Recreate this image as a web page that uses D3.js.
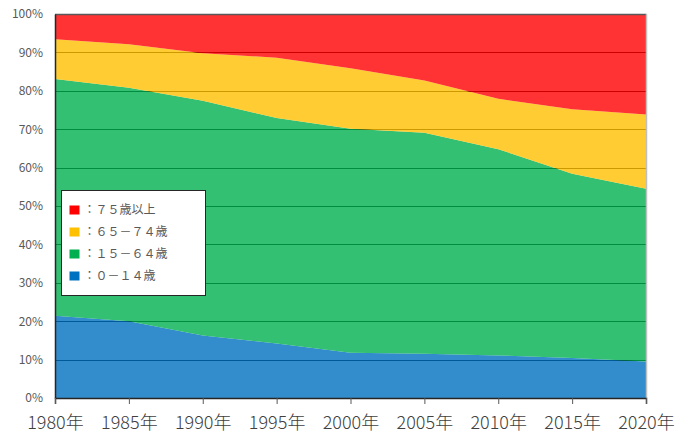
<!DOCTYPE html>
<html>
<head>
<meta charset="utf-8">
<script src="https://cdn.jsdelivr.net/npm/d3@7"></script>
<style>
  html, body { margin: 0; padding: 0; background: #fff; }
  svg { display: block; }
</style>
</head>
<body>
<svg id="chart" width="690" height="437"></svg>
<script>
// Population share by age group (%), census years
const years = [1980, 1985, 1990, 1995, 2000, 2005, 2010, 2015, 2020];
const age0to14  = [21.4, 20.0, 16.3, 14.2, 11.8, 11.5, 11.1, 10.4, 9.5];
const age15to64 = [61.7, 60.8, 61.1, 58.7, 58.3, 57.6, 53.7, 48.0, 45.0];
const age65to74 = [10.3, 11.3, 12.4, 15.7, 15.8, 13.6, 13.1, 16.8, 19.3];
const age75plus = [ 6.6,  7.9, 10.2, 11.4, 14.1, 17.3, 22.1, 24.8, 26.2];
const yTicks = [0, 10, 20, 30, 40, 50, 60, 70, 80, 90, 100];

const groups = [
  { key: "a0",  values: age0to14,  color: "#0070c0", label: "：０－１４歳" },
  { key: "a15", values: age15to64, color: "#00b050", label: "：１５－６４歳" },
  { key: "a65", values: age65to74, color: "#ffc000", label: "：６５－７４歳" },
  { key: "a75", values: age75plus, color: "#ff0000", label: "：７５歳以上" }
];

const rows = years.map((yr, i) => {
  const r = { year: yr };
  groups.forEach(g => { r[g.key] = g.values[i]; });
  return r;
});

const svg = d3.select("#chart");
const plotL = 55, plotR = 646, plotT = 14, plotB = 398;

const x = d3.scaleLinear().domain([years[0], years[years.length - 1]]).range([plotL, plotR]);
const y = d3.scaleLinear().domain([0, 100]).range([plotB, plotT]);

// gridlines sit beneath the translucent areas
svg.append("g")
  .selectAll("line")
  .data(yTicks.slice(1, -1))
  .join("line")
  .attr("x1", plotL).attr("x2", plotR)
  .attr("y1", d => Math.round(y(d)) + 0.5).attr("y2", d => Math.round(y(d)) + 0.5)
  .attr("stroke", "#000")
  .attr("stroke-width", 1);

const stack = d3.stack().keys(groups.map(g => g.key));
const series = stack(rows);

const area = d3.area()
  .x(d => x(d.data.year))
  .y0(d => y(d[0]))
  .y1(d => y(d[1]));

svg.append("g")
  .selectAll("path")
  .data(series)
  .join("path")
  .attr("d", area)
  .attr("fill", (d, i) => groups[i].color)
  .attr("fill-opacity", 0.8);

// frame
svg.append("line")
  .attr("x1", plotL).attr("x2", plotR + 0.5).attr("y1", plotT + 0.5).attr("y2", plotT + 0.5)
  .attr("stroke", "#595959").attr("stroke-width", 1.5);
svg.append("line")
  .attr("x1", plotR + 0.5).attr("x2", plotR + 0.5).attr("y1", plotT).attr("y2", plotB)
  .attr("stroke", "#bfbfbf").attr("stroke-width", 1.5);

// y axis
const yAxis = svg.append("g")
  .attr("transform", `translate(${plotL},0)`)
  .call(d3.axisLeft(y).tickValues(yTicks).tickFormat(d => d + "%").tickSize(0).tickPadding(12));
yAxis.select(".domain").attr("stroke", "#262626").attr("stroke-width", 1.5);
yAxis.selectAll("text")
  .attr("fill", "#595959")
  .style("font-family", "'Noto Sans CJK JP', 'Noto Sans', sans-serif")
  .style("font-size", "12px");

// x axis
const xAxis = svg.append("g")
  .attr("transform", `translate(0,${plotB})`)
  .call(d3.axisBottom(x).tickValues(years).tickFormat(d => d + "年").tickSize(6).tickPadding(12));
xAxis.select(".domain").attr("stroke", "#262626").attr("stroke-width", 1.5);
xAxis.selectAll(".tick line").attr("stroke", "#595959");
xAxis.selectAll("text")
  .attr("fill", "#404040")
  .style("font-family", "'Noto Sans CJK JP', 'Noto Sans', sans-serif")
  .style("font-weight", "300")
  .style("font-size", "18px");

// legend
const legend = svg.append("g").attr("transform", "translate(61.5,190.5)");
legend.append("rect")
  .attr("width", 144).attr("height", 105)
  .attr("fill", "#fff").attr("stroke", "#262626").attr("stroke-width", 1);

const legendOrder = groups.slice().reverse();
const item = legend.selectAll("g.item")
  .data(legendOrder)
  .join("g")
  .attr("class", "item")
  .attr("transform", (d, i) => `translate(8,${19.5 + i * 22})`);
item.append("rect")
  .attr("x", 0).attr("y", -4.5)
  .attr("width", 10).attr("height", 9)
  .attr("fill", d => d.color);
item.append("text")
  .attr("x", 14).attr("y", 0)
  .attr("dy", "0.36em")
  .attr("fill", "#595959")
  .style("font-family", "'Noto Sans CJK JP', sans-serif")
  .style("font-size", "12px")
  .text(d => d.label);
</script>
</body>
</html>
